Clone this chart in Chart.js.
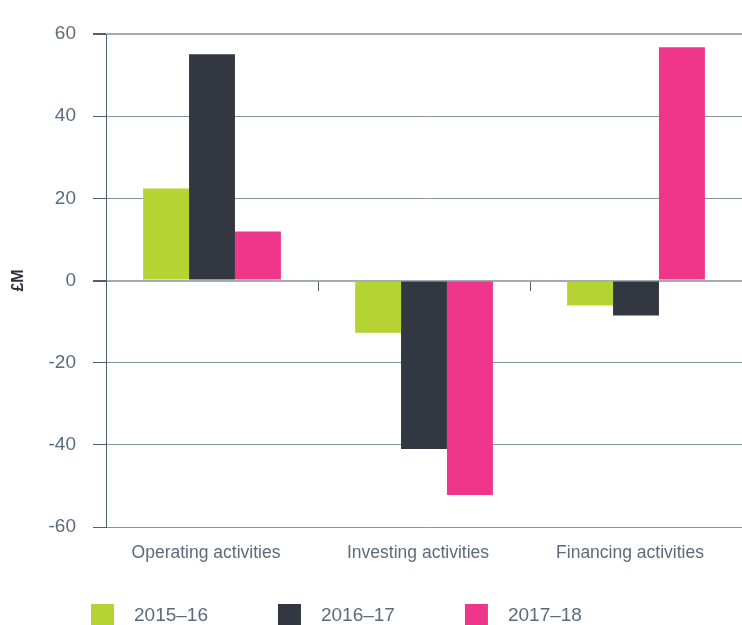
<!DOCTYPE html>
<html>
<head>
<meta charset="utf-8">
<script src="https://cdn.jsdelivr.net/npm/chart.js@4.4.1/dist/chart.umd.min.js"></script>
<style>
  html, body { margin: 0; padding: 0; background: #ffffff; }
  #wrap { width: 742px; height: 625px; }
</style>
</head>
<body>
<div id="wrap"><canvas id="c" width="742" height="625"></canvas></div>
<script>
const categories = ['Operating activities', 'Investing activities', 'Financing activities'];
const seriesLabels = ['2015–16', '2016–17', '2017–18'];
const values201516 = [22.4, -12.7, -6.1];
const values201617 = [55.1, -41.0, -8.5];
const values201718 = [11.9, -52.2, 56.8];
const yTickMin = -60;
const yTickMax = 60;
const yTickStep = 20;
const yAxisTitle = '£M';

const colors = ['#b5d434', '#323741', '#ef368b'];
const textColor = '#5b6b7b';
const fontFamily = "'Liberation Sans', Arial, sans-serif";

const seriesValues = [values201516, values201617, values201718];

new Chart(document.getElementById('c'), {
  type: 'bar',
  data: {
    labels: categories,
    datasets: seriesLabels.map((name, i) => ({
      label: name,
      data: seriesValues[i],
      backgroundColor: colors[i],
      borderWidth: 0,
      categoryPercentage: 0.65,
      barPercentage: 1.0
    }))
  },
  options: {
    responsive: false,
    animation: false,
    devicePixelRatio: 1,
    layout: { padding: { left: 21, right: 0, top: 34, bottom: 0 } },
    plugins: {
      tooltip: { enabled: false },
      legend: {
        position: 'bottom',
        align: 'start',
        maxHeight: 91,
        labels: {
          boxWidth: 44,
          boxHeight: 44,
          padding: 59.5,
          color: textColor,
          font: { family: fontFamily, size: 19 },
          generateLabels: (chart) =>
            Chart.defaults.plugins.legend.labels.generateLabels(chart).map(l => ({
              ...l, lineWidth: 21, strokeStyle: '#ffffff'
            }))
        }
      }
    },
    scales: {
      x: {
        type: 'category',
        position: 'bottom',
        offset: true,
        grid: { display: false, drawTicks: false },
        border: { display: false },
        ticks: {
          color: textColor,
          font: { family: fontFamily, size: 17.5 },
          mirror: true,
          padding: -37,
          labelOffset: -6,
          maxRotation: 0,
          autoSkip: false
        },
        afterFit: (scale) => { scale.height = 7; }
      },
      x2: {
        type: 'category',
        axis: 'x',
        position: { y: 0 },
        offset: true,
        grid: {
          offset: true,
          drawOnChartArea: false,
          drawTicks: true,
          tickLength: 10,
          tickColor: '#4f5f6e',
          color: '#4f5f6e',
          lineWidth: 1
        },
        border: { display: false },
        ticks: { display: false }
      },
      y: {
        type: 'linear',
        min: yTickMin,
        max: yTickMax,
        ticks: {
          stepSize: yTickStep,
          color: textColor,
          font: { family: fontFamily, size: 19 },
          padding: 17
        },
        grid: {
          drawTicks: true,
          tickLength: 13,
          tickColor: '#4f5f6e',
          color: (ctx) => (ctx.tick && (ctx.tick.value === 0 || ctx.tick.value === yTickMax)) ? '#a2abb3' : '#8595a3',
          lineWidth: (ctx) => (ctx.tick && (ctx.tick.value === 0 || ctx.tick.value === yTickMax)) ? 2 : 1
        },
        border: { display: true, color: '#4f5f6e', width: 1 },
        title: {
          display: true,
          text: yAxisTitle,
          color: '#2b303a',
          font: { family: fontFamily, size: 16, weight: 'bold' },
          padding: { top: -12, bottom: 0 }
        },
        afterFit: (scale) => { scale.width = 85; }
      }
    }
  }
});
</script>
</body>
</html>
